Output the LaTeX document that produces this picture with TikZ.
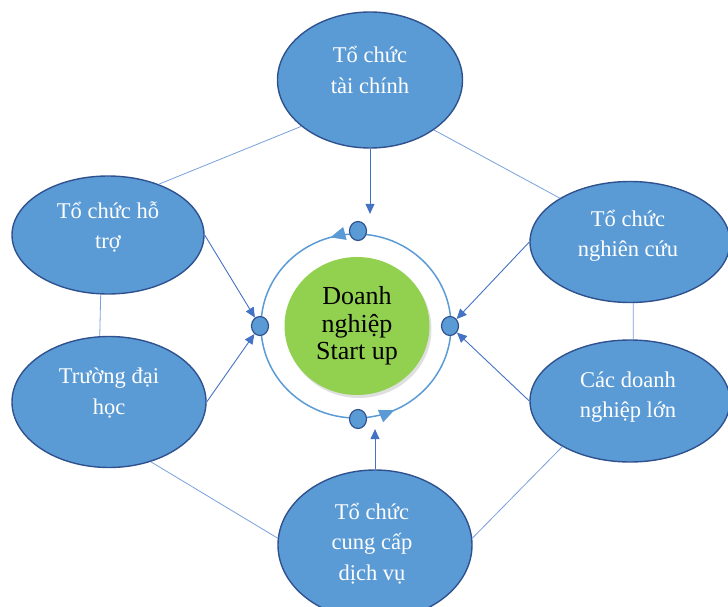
\documentclass[tikz,border=0pt]{standalone}
\usepackage{fontspec}
\setmainfont{Liberation Serif}
\usetikzlibrary{shapes.geometric,arrows.meta,decorations.markings,shadows}
\definecolor{boxblue}{RGB}{91,155,213}
\definecolor{edgeblue}{RGB}{47,82,143}
\definecolor{arrowblue}{RGB}{68,114,196}
\definecolor{linkblue}{RGB}{120,160,220}
\definecolor{startgreen}{RGB}{146,208,80}
\begin{document}
\begin{tikzpicture}[
        x=1pt, y=-1pt,
        partner/.style={ellipse, fill=boxblue, draw=edgeblue, line width=1.4pt, inner sep=0pt},
        partnertext/.style={text=white, align=center, font=\fontsize{22.5}{30.5}\selectfont},
        hub/.style={ellipse, fill=boxblue, draw=edgeblue, line width=1.2pt, minimum width=17pt, minimum height=19pt, inner sep=0pt},
        link/.style={draw=linkblue, line width=0.8pt},
        feed/.style={draw=arrowblue, line width=0.9pt, -{Triangle[length=10pt,width=9pt]}},
        ring/.style={draw=boxblue, line width=1.5pt, postaction={decorate, decoration={markings,
            mark=at position 0.294 with {\arrow{Triangle[length=15pt,width=13pt]}},
            mark=at position 0.817 with {\arrow{Triangle[length=15pt,width=13pt]}}}}},
    ]
    \useasboundingbox (0,0) rectangle (728,607);

    \coordinate (core) at (356,326);
    \draw[ring] (core) ellipse [x radius=95pt, y radius=92pt];
    \node[ellipse, fill=startgreen, minimum width=145pt, minimum height=138pt,
        drop shadow={opacity=0.25, shadow xshift=2pt, shadow yshift=-3pt},
        align=center, font=\fontsize{26}{27.5}\selectfont] (start) at (357,326) {Doanh\\nghiệp\\Start up};

    \node[hub] (tdot) at (358,231) {};
    \node[hub] (bdot) at (358,419) {};
    \node[hub] (ldot) at (260,326) {};
    \node[hub] (rdot) at (450,326) {};

    \node[partner, minimum width=185pt, minimum height=136pt] (fin) at (370,80) {};
    \node[partnertext] (finT) at (370,70) {Tổ chức\\tài chính};
    \node[partner, minimum width=192pt, minimum height=118pt] (hotro) at (108,235) {};
    \node[partnertext] (hotroT) at (108,227) {Tổ chức hỗ\\trợ};
    \node[partner, minimum width=194pt, minimum height=131pt] (truong) at (109,402) {};
    \node[partnertext] (truongT) at (109,393) {Trường đại\\học};
    \node[partner, minimum width=200pt, minimum height=121pt] (nghiencuu) at (630,242) {};
    \node[partnertext] (nghiencuuT) at (628,236) {Tổ chức\\nghiên cứu};
    \node[partner, minimum width=200pt, minimum height=122pt] (lon) at (630,401) {};
    \node[partnertext] (lonT) at (628,397) {Các doanh\\nghiệp lớn};
    \node[partner, minimum width=194pt, minimum height=150pt] (dichvu) at (375,545) {};
    \node[partnertext] (dichvuT) at (372,543.5) {Tổ chức\\cung cấp\\dịch vụ};

    \draw[link] (fin.214) -- (hotro.45);
    \draw[link] (fin.322) -- (nghiencuu.148);
    \draw[link] (hotro.263) -- (truong.98);
    \draw[link] (nghiencuu.273) -- (lon.87);
    \draw[link] (truong.305) -- (dichvu.176);
    \draw[link] (lon.214) -- (dichvu.4);

    \draw[feed, shorten >=7pt] (fin.south) -- (fin.south |- tdot.north);
    \draw[feed] (dichvu.north) -- (dichvu.north |- bdot.south);
    \draw[feed] (hotro.east) -- (ldot);
    \draw[feed] (truong.east) -- (ldot);
    \draw[feed] (nghiencuu.west) -- (rdot);
    \draw[feed] (lon.west) -- (rdot);
\end{tikzpicture}
\end{document}
